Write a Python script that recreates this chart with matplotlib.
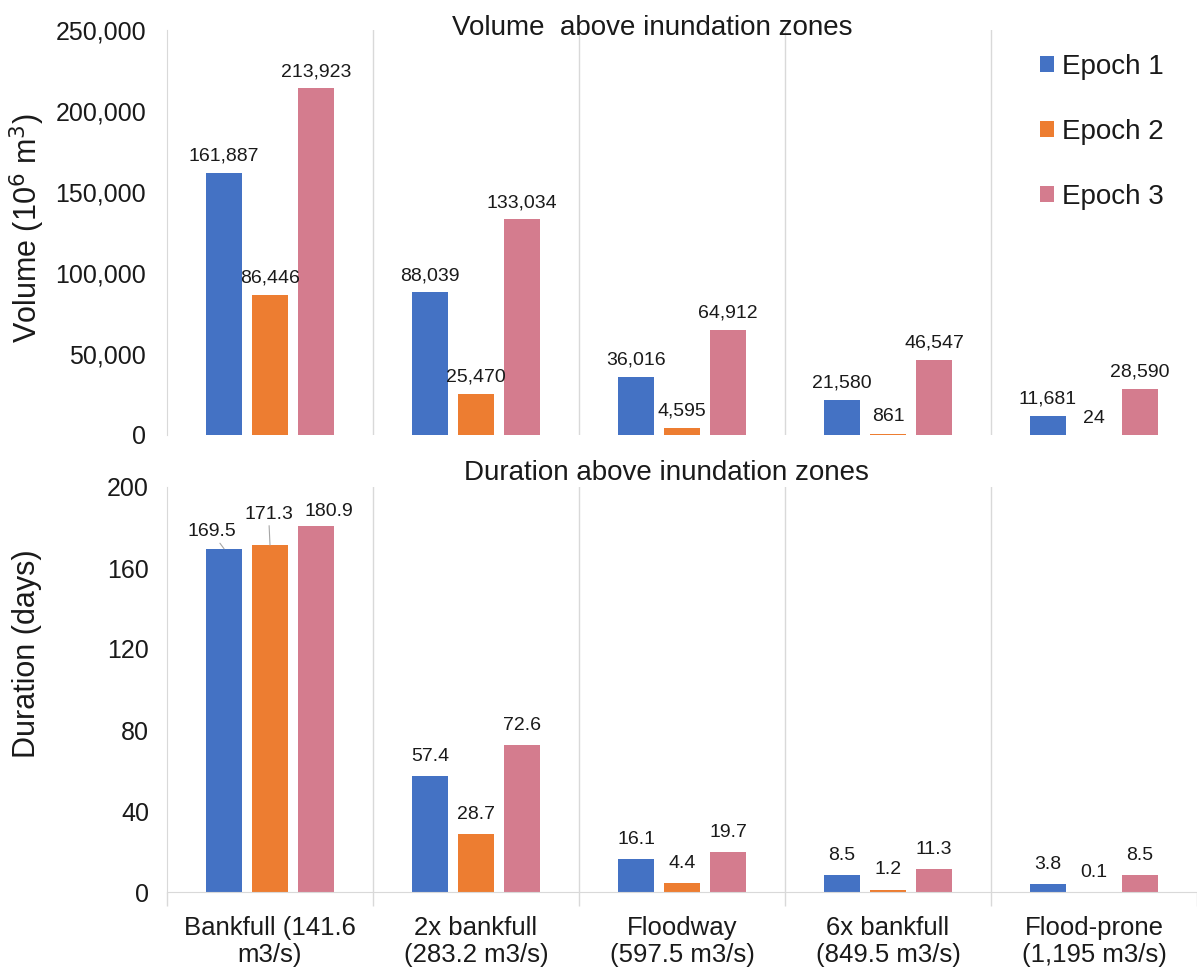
import matplotlib
matplotlib.use("Agg")
import matplotlib.pyplot as plt
from matplotlib.ticker import FuncFormatter, FixedLocator
import numpy as np

plt.rcParams['font.family'] = ['Liberation Sans', 'DejaVu Sans']

zones = ["Bankfull (141.6\nm3/s)", "2x bankfull\n(283.2 m3/s)", "Floodway\n(597.5 m3/s)",
         "6x bankfull\n(849.5 m3/s)", "Flood-prone\n(1,195 m3/s)"]
epochs = ["Epoch 1", "Epoch 2", "Epoch 3"]
colors = ["#4472C4", "#ED7D31", "#D47C8E"]

volume_e1 = [161887, 88039, 36016, 21580, 11681]
volume_e2 = [86446, 25470, 4595, 861, 24]
volume_e3 = [213923, 133034, 64912, 46547, 28590]

duration_e1 = [169.5, 57.4, 16.1, 8.5, 3.8]
duration_e2 = [171.3, 28.7, 4.4, 1.2, 0.1]
duration_e3 = [180.9, 72.6, 19.7, 11.3, 8.5]

volume_ticks = [0, 50000, 100000, 150000, 200000, 250000]
duration_ticks = [0, 40, 80, 120, 160, 200]

W, H = 1197, 972
fig = plt.figure(figsize=(W / 100, H / 100), dpi=100)
ax_v = fig.add_axes([167 / W, 1 - 435 / H, (W - 167) / W, (435 - 30) / H])
ax_d = fig.add_axes([167 / W, 1 - 892 / H, (W - 167) / W, (892 - 487) / H])

x = np.arange(len(zones))
step, width = 0.223, 0.175
grid_c = "#D9D9D9"
text_c = "#1a1a1a"


def style_axes(ax, ticks, fmt, pad):
    ax.set_xlim(-0.5, len(zones) - 0.5)
    ax.set_ylim(ticks[0], ticks[-1])
    ax.set_yticks(ticks)
    ax.yaxis.set_major_formatter(FuncFormatter(fmt))
    ax.tick_params(axis='y', length=0, pad=pad, labelsize=18, labelcolor=text_c)
    for s in ("top", "right", "bottom"):
        ax.spines[s].set_visible(False)
    ax.spines["left"].set_color(grid_c)
    for b in np.arange(0.5, len(zones) - 0.5, 1.0):
        ax.axvline(b, color=grid_c, lw=1.0, zorder=0)


# --- Volume panel ---
vol_series = [volume_e1, volume_e2, volume_e3]
style_axes(ax_v, volume_ticks, lambda v, p: f"{int(v):,}", 15)
ax_v.set_xticks([])
for j, vals in enumerate(vol_series):
    bars = ax_v.bar(x + (j - 1) * step, vals, width, color=colors[j], label=epochs[j], zorder=2)
    for rect, v in zip(bars, vals):
        ax_v.annotate(f"{v:,}", (rect.get_x() + rect.get_width() / 2, v),
                      xytext=(0, 6), textcoords="offset points",
                      ha="center", va="bottom", fontsize=14, color=text_c, zorder=3)

ax_v.set_ylabel("Volume (10$^6$ m$^3$)", fontsize=22, color=text_c)
ax_v.yaxis.set_label_coords(27 / W, 1 - 228 / H, transform=fig.transFigure)
ax_v.yaxis.label.set_va("center")

leg = ax_v.legend(loc="upper left", bbox_to_anchor=(1026 / W, 1 - 40 / H),
                  bbox_transform=fig.transFigure, frameon=False, fontsize=20,
                  handlelength=0.5, handleheight=0.5, handletextpad=0.3,
                  labelspacing=1.4, borderpad=0)
for t in leg.get_texts():
    t.set_color(text_c)

fig.text(652 / W, 1 - 28 / H, "Volume  above inundation zones", ha="center", va="center",
         fontsize=20, color=text_c)

# --- Duration panel ---
dur_series = [duration_e1, duration_e2, duration_e3]
style_axes(ax_d, duration_ticks, lambda v, p: f"{int(v)}", 13)
ax_d.spines["bottom"].set_visible(True)
ax_d.spines["bottom"].set_color(grid_c)
ax_d.set_xticks(x)
ax_d.set_xticklabels(zones, fontsize=18.5, color=text_c, linespacing=1.2)
ax_d.tick_params(axis='x', length=0, pad=17)
ax_d.xaxis.set_minor_locator(FixedLocator(np.arange(-0.5, len(zones), 1.0)))
ax_d.tick_params(axis='x', which='minor', length=10, color=grid_c, width=1.0)

# label offsets (points) for the crowded first group, drawn with leader lines
special = {(0, 0): (-9, 6), (0, 1): (-1, 16), (0, 2): (9, 4)}
for j, vals in enumerate(dur_series):
    bars = ax_d.bar(x + (j - 1) * step, vals, width, color=colors[j], label=epochs[j], zorder=2)
    for i, (rect, v) in enumerate(zip(bars, vals)):
        cx = rect.get_x() + rect.get_width() / 2
        if (i, j) in special:
            dx, dy = special[(i, j)]
            arrow = None
            if j < 2:
                arrow = dict(arrowstyle="-", color="#A6A6A6", lw=0.8, shrinkA=0, shrinkB=0)
            ax_d.annotate(f"{v:g}", (cx, v), xytext=(dx, dy), textcoords="offset points",
                          ha="center", va="bottom", fontsize=14, color=text_c,
                          arrowprops=arrow, zorder=3)
        else:
            ax_d.annotate(f"{v:g}", (cx, v), xytext=(0, 8), textcoords="offset points",
                          ha="center", va="bottom", fontsize=14, color=text_c, zorder=3)

ax_d.set_ylabel("Duration (days)", fontsize=22, color=text_c)
ax_d.yaxis.set_label_coords(27 / W, 1 - 654 / H, transform=fig.transFigure)
ax_d.yaxis.label.set_va("center")

fig.text(666 / W, 1 - 473 / H, "Duration above inundation zones", ha="center", va="center",
         fontsize=20, color=text_c)

fig.savefig("out.png", dpi=100, facecolor="white")
